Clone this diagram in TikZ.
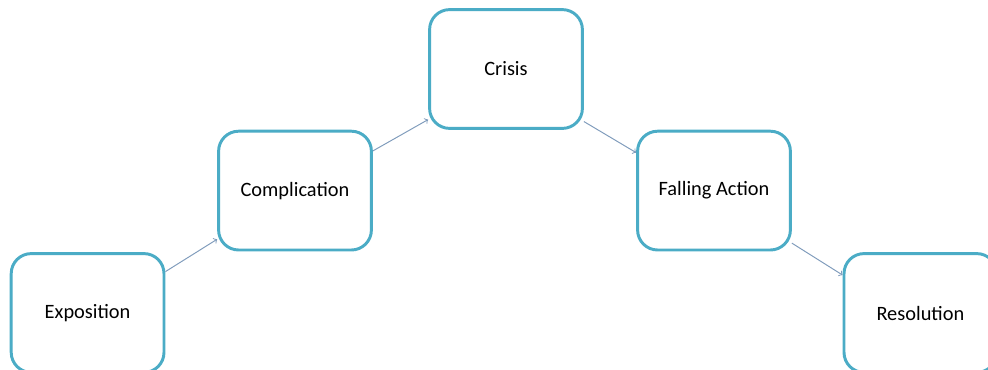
\documentclass[tikz,border=0pt]{standalone}
\usepackage{fontspec}
\setmainfont{Carlito}
\definecolor{boxteal}{RGB}{75,172,198}
\definecolor{arrowgray}{RGB}{128,156,188}
\tikzset{
  stage/.style={draw=boxteal,line width=2.1pt,rounded corners=0.5cm,fill=white,
    minimum width=3.82cm,minimum height=2.97cm,font=\fontsize{14.5}{17}\selectfont},
  link/.style={->,draw=arrowgray,line width=0.7pt}
}
\begin{document}
\begin{tikzpicture}
      \useasboundingbox (0,0) rectangle (24.7,9.225);
      \node[stage] (expo) at (2.19,1.4) {Exposition};
      \node[stage] (compl) at (7.375,4.46) {Complication};
      \node[stage] (crisis) at (12.65,7.5) {Crisis};
      \node[stage] (fall) at (17.85,4.46) {Falling Action};
      \node[stage] (resol) at (23.01,1.4) {Resolution};
      \draw[link] (expo.28) -- (compl.212);
      \draw[link] (compl.27) -- (crisis.213);
      \draw[link] (crisis.-34) -- (fall.154);
      \draw[link] (fall.-34) -- (resol.154);
    \end{tikzpicture}
\end{document}
